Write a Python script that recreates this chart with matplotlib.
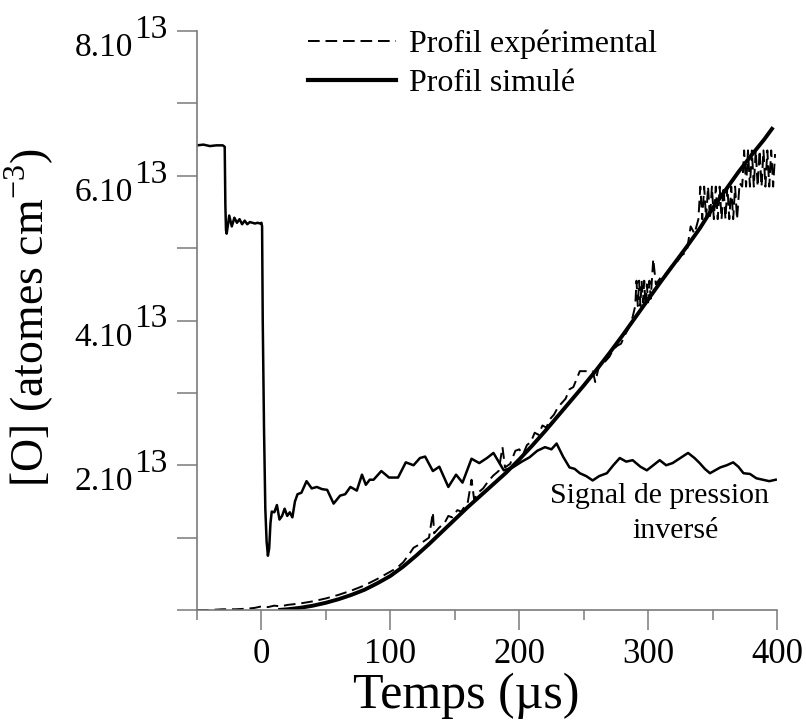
import matplotlib
matplotlib.use("Agg")
import matplotlib.pyplot as plt
from matplotlib.lines import Line2D

plt.rcParams['font.family'] = ['Liberation Serif', 'DejaVu Serif']
plt.rcParams['mathtext.fontset'] = 'custom'
plt.rcParams['mathtext.rm'] = 'Liberation Serif'

# ---------------- data (values in units of 1e13 atomes cm-3) ----------------
pressure_t = [-50, -45, -40, -35, -30, -28.5, -28, -27.5, -27, -26, -25, -23, -21, -19, -17,
              -15, -13, -11, -9, -7, -5, -3, -1, 0, 0.5, 1, 2, 3, 4, 5, 6, 7, 8, 10, 12, 14,
              16, 18, 20, 22, 24, 26, 28, 31, 35, 39, 43, 47, 51, 56, 61, 65, 69, 74, 78, 81,
              84, 87, 93, 99, 106, 112, 118, 123, 127, 133, 138, 145, 151, 156, 163, 169, 175,
              180, 184, 188, 195, 202, 208, 214, 220, 225, 229, 234, 239, 243, 247, 252, 257,
              262, 268, 273, 278, 283, 288, 294, 299, 304, 309, 314, 319, 325, 331, 336, 340,
              344, 348, 352, 356, 361, 366, 370, 374, 379, 384, 389, 394, 399]
pressure_v = [6.42, 6.43, 6.41, 6.42, 6.42, 6.40, 5.6, 5.25, 5.2, 5.32, 5.45, 5.3, 5.42, 5.35,
              5.4, 5.33, 5.38, 5.33, 5.36, 5.35, 5.34, 5.35, 5.34, 5.35, 5.3, 4.0, 2.5, 1.4, 0.95,
              0.75, 0.85, 1.2, 1.36, 1.35, 1.45, 1.25, 1.3, 1.4, 1.3, 1.35, 1.28, 1.5, 1.6, 1.62,
              1.78, 1.68, 1.7, 1.67, 1.66, 1.47, 1.58, 1.6, 1.7, 1.65, 1.87, 1.73, 1.8, 1.8, 1.92,
              1.83, 1.83, 2.04, 2.0, 2.1, 2.12, 1.92, 1.98, 1.7, 1.87, 1.76, 2.09, 2.03, 2.1, 2.17,
              2.05, 1.93, 1.97, 2.05, 2.11, 2.2, 2.25, 2.22, 2.3, 2.12, 1.97, 1.95, 1.89, 1.85,
              1.79, 1.85, 1.89, 2.0, 2.1, 2.05, 2.07, 1.98, 1.93, 2.0, 2.07, 2.0, 2.03, 2.1, 2.17,
              2.1, 2.03, 1.95, 1.89, 1.93, 1.97, 2.0, 2.04, 1.98, 1.89, 1.88, 1.82, 1.8, 1.78, 1.8]

sim_t = [13, 20, 30, 40, 50, 60, 70, 80, 90, 100, 110, 120, 130, 140, 150, 160, 170, 180, 190,
         200, 210, 220, 230, 240, 250, 260, 270, 280, 290, 300, 310, 320, 330, 340, 350, 360,
         370, 380, 390, 397]
sim_v = [0.0, 0.01, 0.03, 0.06, 0.1, 0.15, 0.21, 0.28, 0.37, 0.47, 0.6, 0.75, 0.91, 1.08, 1.25,
         1.42, 1.58, 1.74, 1.9, 2.08, 2.27, 2.47, 2.68, 2.89, 3.1, 3.32, 3.55, 3.79, 4.04, 4.29,
         4.54, 4.78, 5.02, 5.27, 5.55, 5.8, 6.05, 6.28, 6.5, 6.67]

exp_t = [-50, -40, -30, -20, -10, -5, 0, 5, 10, 15, 20, 30, 40, 50, 60, 70, 80, 90, 100, 105,
         110, 115, 118, 122, 126, 130, 133, 134, 138, 142, 145, 148, 152, 155, 158, 160, 163,
         165, 168, 172, 176, 180, 184, 187, 189, 193, 197, 200, 203, 206, 209, 212, 215, 218,
         221, 224, 227, 230, 233, 236, 239, 242, 247, 252, 257, 259, 262, 266, 270, 273, 276,
         279, 282, 285, 288,
         290, 291, 292, 293, 294, 295, 296, 297, 298, 299, 300, 301, 302,
         304, 306, 310, 314, 318, 322, 326, 330, 333, 336,
         339, 340.5, 342, 343.5, 345, 346.5, 348, 349.5, 351, 352.5, 354, 355.5, 357, 358.5,
         360, 361.5, 363, 364.5, 366, 367.5, 369, 371,
         373, 374.5, 376, 377.5, 379, 380.5, 382, 383.5, 385, 386.5, 388, 389.5, 391, 392.5,
         394, 395.5, 397, 398.5]
exp_v = [0.0, 0.0, 0.01, 0.01, 0.02, 0.03, 0.05, 0.04, 0.06, 0.05, 0.07, 0.09, 0.12, 0.16, 0.21,
         0.27, 0.34, 0.43, 0.53, 0.58, 0.66, 0.78, 0.86, 0.9, 0.95, 1.0, 1.35, 1.06, 1.14, 1.2,
         1.3, 1.28, 1.38, 1.36, 1.44, 1.48, 1.8, 1.53, 1.62, 1.68, 1.78, 1.86, 1.92, 2.25, 1.97,
         2.02, 2.2, 2.22, 2.15, 2.28, 2.32, 2.45, 2.42, 2.55, 2.52, 2.64, 2.7, 2.8, 2.86, 2.92,
         3.05, 3.08, 3.3, 3.3, 3.3, 3.15, 3.38, 3.42, 3.5, 3.6, 3.65, 3.68, 3.8, 3.9, 4.05,
         4.2, 4.55, 4.2, 4.55, 4.2, 4.55, 4.25, 4.55, 4.2, 4.5, 4.25, 4.55, 4.3,
         4.85, 4.5, 4.6, 4.65, 4.75, 4.8, 4.9, 4.95, 5.3, 5.2,
         5.4, 5.85, 5.4, 5.85, 5.4, 5.85, 5.4, 5.85, 5.4, 5.85, 5.4, 5.85, 5.4, 5.85,
         5.4, 5.85, 5.4, 5.85, 5.4, 5.85, 5.4, 5.9,
         5.85, 6.35, 5.85, 6.35, 5.85, 6.35, 5.85, 6.35, 5.85, 6.35, 5.85, 6.35, 5.85, 6.35,
         5.85, 6.35, 5.85, 6.3]

x_ticks = [0, 100, 200, 300, 400]
x_minor = [-50, 50, 150, 250, 350]
y_ticks = [0, 1, 2, 3, 4, 5, 6, 7, 8]
y_label_vals = [2, 4, 6, 8]
y_label_base = ["2.10", "4.10", "6.10", "8.10"]
y_label_exp = ["13", "13", "13", "13"]
legend_labels = ["Profil expérimental", "Profil simulé"]
note_lines = ["Signal de pression", "inversé"]

# ---------------- figure ----------------
fig = plt.figure(figsize=(8.06, 7.24), dpi=100)
ax = fig.add_axes([197/806, 114/724, 580/806, 579/724])

axis_col = '#7a7a7a'
ax.plot(pressure_t, pressure_v, color='black', lw=1.8, solid_joinstyle='round')
ax.plot(exp_t, exp_v, color='black', lw=1.4, linestyle=(0, (6, 3)))
ax.plot(sim_t, sim_v, color='black', lw=2.8, solid_capstyle='butt')

ax.set_xlim(-50, 400)
ax.set_ylim(0, 8)
for s in ['top', 'right']:
    ax.spines[s].set_visible(False)
for s in ['left', 'bottom']:
    ax.spines[s].set_color(axis_col)
    ax.spines[s].set_linewidth(1.2)

ax.set_xticks(x_ticks)
ax.set_xticks(x_minor, minor=True)
ax.set_xticklabels([str(v) for v in x_ticks])
ax.tick_params(axis='x', which='major', length=14.4, width=1.1, color=axis_col,
               direction='out', labelsize=25, pad=6)
ax.tick_params(axis='x', which='minor', length=7.2, width=1.1, color=axis_col, direction='out')

ax.set_yticks(y_ticks)
ax.set_yticklabels([])
ax.tick_params(axis='y', which='major', length=14.4, width=1.1, color=axis_col, direction='out')

for v, b, e in zip(y_label_vals, y_label_base, y_label_exp):
    ax.annotate(b, xy=(0, v), xycoords=('axes fraction', 'data'),
                xytext=(-46, -18), textcoords='offset points',
                ha='right', va='baseline', fontsize=24)
    ax.annotate(e, xy=(0, v), xycoords=('axes fraction', 'data'),
                xytext=(-21.6, -5), textcoords='offset points',
                ha='right', va='baseline', fontsize=24)

ax.set_xlabel('Temps (µs)', fontsize=36)
ax.xaxis.label.set_va('bottom')
ax.xaxis.set_label_coords(0.465, -0.188)
ax.set_ylabel('[O] (atomes cm$^{\\mathregular{-3}}$)', fontsize=33)
ax.yaxis.set_label_coords(-0.243, 0.505)

ax.text(309, 1.476, note_lines[0], ha='center', va='baseline', fontsize=21.5)
ax.text(321, 0.993, note_lines[1], ha='center', va='baseline', fontsize=21.5)

handles = [Line2D([], [], color='black', lw=1.4, linestyle=(0, (6, 3))),
           Line2D([], [], color='black', lw=3.0)]
ax.legend(handles, legend_labels, loc='upper left', bbox_to_anchor=(0.17, 1.025),
          frameon=False, fontsize=23, handlelength=2.75, handletextpad=0.4,
          labelspacing=0.3, borderaxespad=0)

fig.savefig('out.png', dpi=100)
